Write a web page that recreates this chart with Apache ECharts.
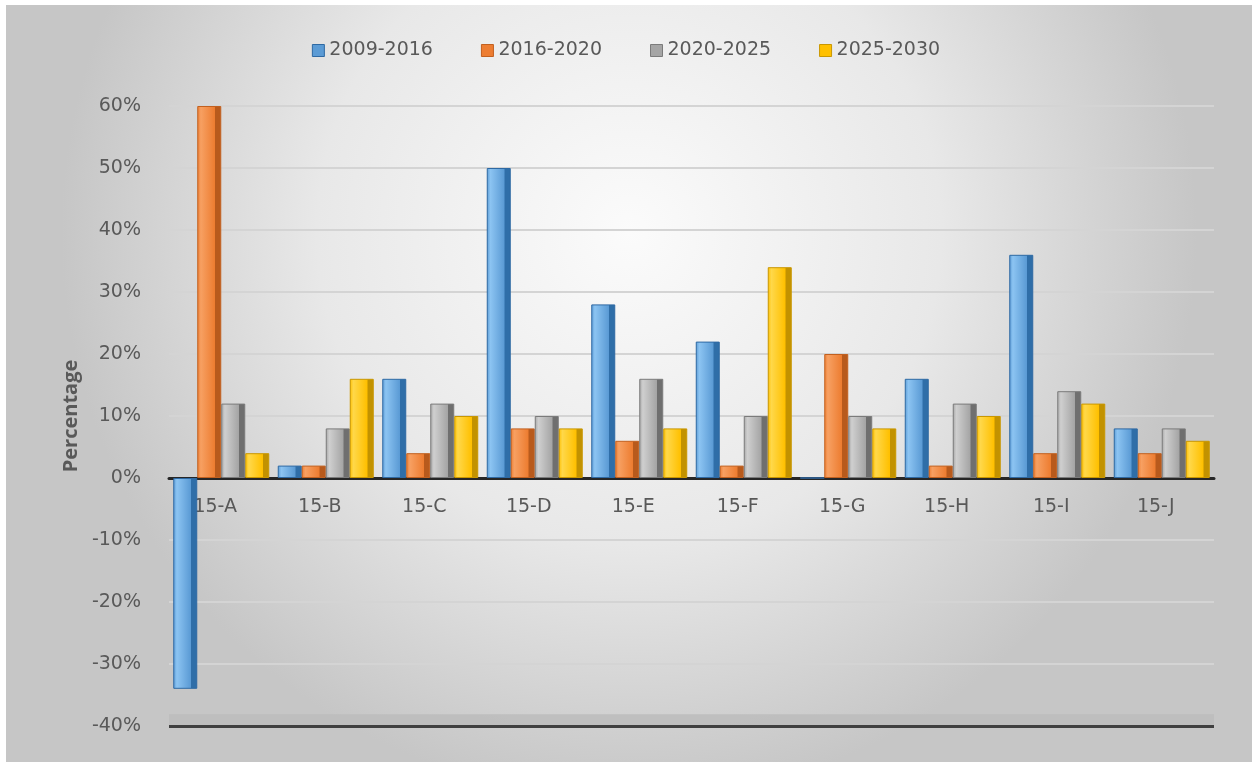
<!DOCTYPE html>
<html>
<head>
<meta charset="utf-8">
<style>
  html, body { margin: 0; padding: 0; background: #ffffff; }
  #chart { width: 1252px; height: 762px; }
</style>
<script src="https://cdn.jsdelivr.net/npm/echarts@6/dist/echarts.min.js"></script>
</head>
<body>
<div id="chart"></div>
<script>
// Growth by zone and period (percent)
const categories = ['15-A', '15-B', '15-C', '15-D', '15-E', '15-F', '15-G', '15-H', '15-I', '15-J'];
const periods = ['2009-2016', '2016-2020', '2020-2025', '2025-2030'];
const growth2009_2016 = [-34, 2, 16, 50, 28, 22, 0, 16, 36, 8];
const growth2016_2020 = [60, 2, 4, 8, 6, 2, 20, 2, 4, 4];
const growth2020_2025 = [12, 8, 12, 10, 16, 10, 10, 12, 14, 8];
const growth2025_2030 = [4, 16, 10, 8, 8, 34, 8, 10, 12, 6];
const yTicks = { min: -40, max: 60, step: 10 };

const seriesValues = [growth2009_2016, growth2016_2020, growth2020_2025, growth2025_2030];
// face light, face main, side shade, outline
const palette = [
  ['#8cc4f2', '#5b9bd5', '#2f6ea8', '#2e69a3'],
  ['#f7a062', '#ed7d31', '#b85a1c', '#c2601f'],
  ['#cfcfcf', '#a5a5a5', '#6f6f6f', '#7b7b7b'],
  ['#ffd84a', '#ffc000', '#c29200', '#c99700']
];
const FONT = 'DejaVu Sans, sans-serif';
const NAME_FONT = 'Open Sans, Liberation Sans, sans-serif';

function barFill(p) {
  return new echarts.graphic.LinearGradient(0, 0, 1, 0, [
    { offset: 0, color: p[1] },
    { offset: 0.15, color: p[0] },
    { offset: 0.72, color: p[1] },
    { offset: 0.76, color: p[2] },
    { offset: 1, color: p[2] }
  ]);
}

const chart = echarts.init(document.getElementById('chart'));

const series = periods.map((name, i) => ({
  name: name,
  type: 'bar',
  data: seriesValues[i],
  barWidth: 24,
  barGap: '0%',
  itemStyle: { color: barFill(palette[i]), borderColor: palette[i][3], borderWidth: 1 }
}));

// floor slab and its front edge
series[0].markArea = {
  silent: true,
  itemStyle: { color: '#bdbdbd', opacity: 0.9 },
  data: [[{ yAxis: -40 }, { yAxis: -38.1 }]]
};
series[0].markLine = {
  silent: true,
  symbol: 'none',
  label: { show: false },
  lineStyle: { color: '#404040', width: 3, type: 'solid' },
  data: [{ yAxis: -40 }]
};

chart.setOption({
  backgroundColor: '#ffffff',
  graphic: [{
    type: 'rect',
    z: -10,
    silent: true,
    shape: { x: 6, y: 5, width: 1246, height: 757 },
    style: {
      fill: new echarts.graphic.RadialGradient(0.5, 0.3, 0.75, [
        { offset: 0, color: '#fbfbfb' },
        { offset: 0.55, color: '#e8e8e8' },
        { offset: 1, color: '#c6c6c6' }
      ])
    }
  }],
  animation: false,
  legend: {
    top: 36,
    left: 'center',
    itemWidth: 12,
    itemHeight: 12,
    itemGap: 48,
    icon: 'rect',
    textStyle: { color: '#595959', fontSize: 19, fontFamily: FONT },
    data: periods.map((p, i) => ({ name: p, itemStyle: { color: palette[i][1], borderColor: palette[i][3], borderWidth: 1 } }))
  },
  grid: { left: 169, right: 38, top: 106, bottom: 36, containLabel: false },
  xAxis: {
    type: 'category',
    data: categories,
    axisLine: { onZero: true, lineStyle: { color: '#262626', width: 3 } },
    axisTick: { show: false },
    axisLabel: {
      color: '#595959', fontSize: 19, margin: -228,
      padding: [0, 12, 0, 0],
      fontFamily: FONT
    }
  },
  yAxis: {
    type: 'value',
    min: yTicks.min,
    max: yTicks.max,
    interval: yTicks.step,
    name: 'Percentage',
    nameLocation: 'middle',
    nameGap: 87,
    nameRotate: 90,
    nameTextStyle: { color: '#595959', fontSize: 20, fontWeight: 'bold', fontFamily: NAME_FONT },
    axisLine: { show: false },
    axisTick: { show: false },
    axisLabel: {
      color: '#595959', fontSize: 19, margin: 28,
      fontFamily: FONT,
      formatter: v => v + '%'
    },
    splitLine: { lineStyle: { color: '#d4d4d4', width: 2 } }
  },
  series: series
});
</script>
</body>
</html>
